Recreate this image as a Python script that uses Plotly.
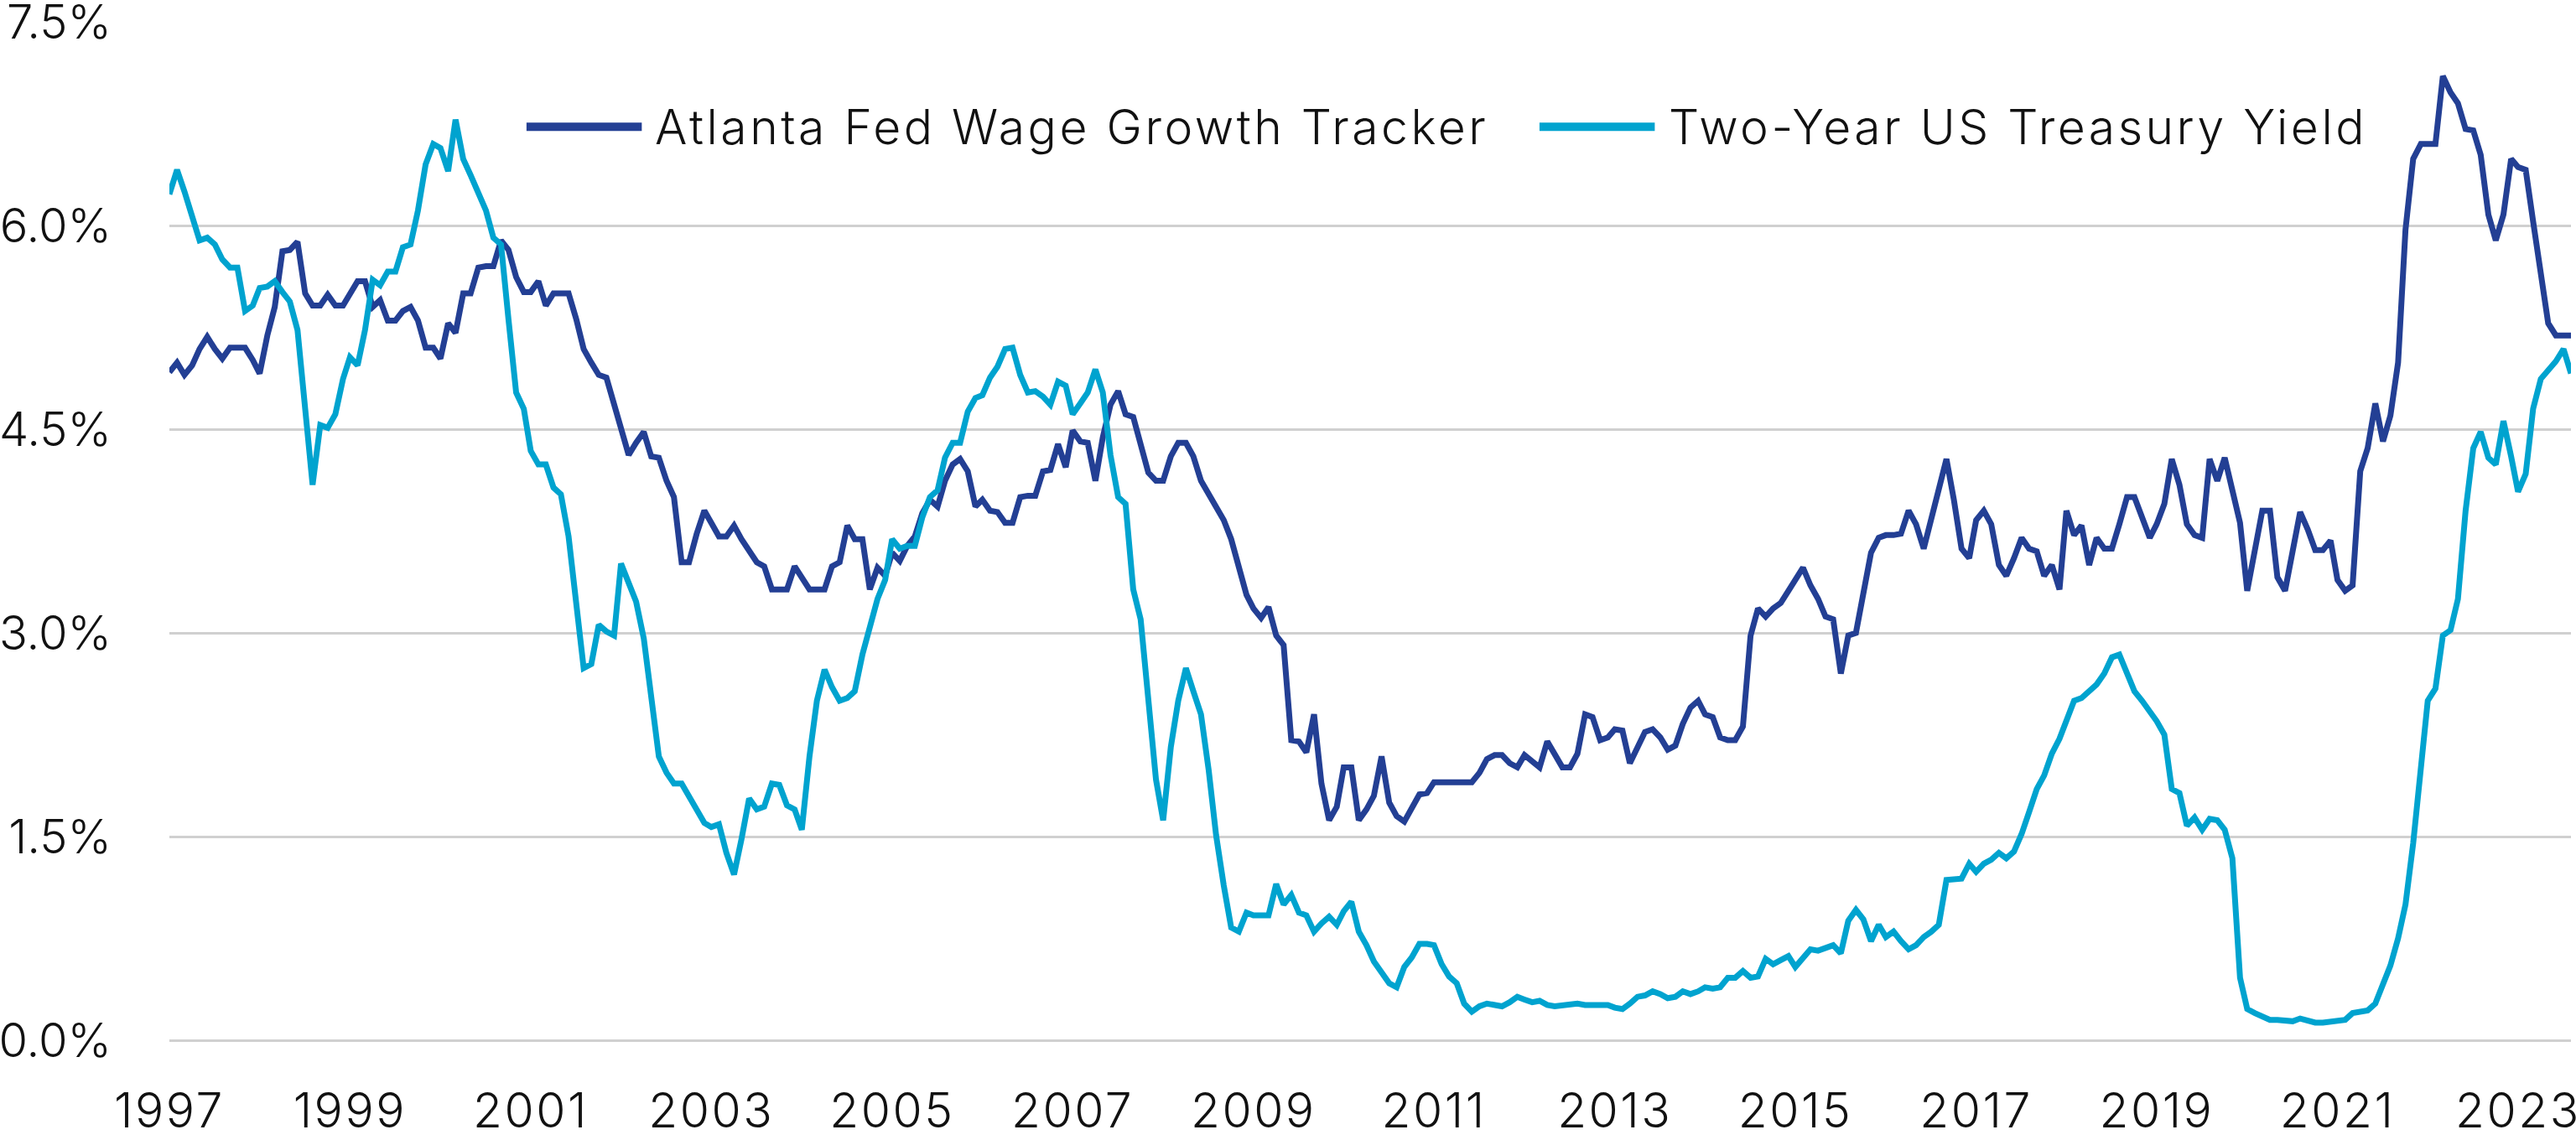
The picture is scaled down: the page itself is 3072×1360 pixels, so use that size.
import pandas as pd
import plotly.graph_objects as go

# Monthly observations, starting March 1997
start_month = "1997-03-01"

wage_growth = [
    4.92, 4.99, 4.90, 4.97, 5.09, 5.18, 5.09, 5.02, 5.10, 5.10,
    5.10, 5.01, 4.91, 5.19, 5.40, 5.81, 5.82, 5.88, 5.50, 5.41,
    5.41, 5.49, 5.41, 5.41, 5.50, 5.59, 5.59, 5.40, 5.45, 5.30,
    5.30, 5.37, 5.40, 5.30, 5.10, 5.10, 5.02, 5.28, 5.21, 5.50,
    5.50, 5.69, 5.70, 5.70, 5.89, 5.82, 5.62, 5.51, 5.51, 5.59,
    5.41, 5.50, 5.50, 5.50, 5.31, 5.09, 4.99, 4.90, 4.88, 4.68,
    4.48, 4.31, 4.40, 4.48, 4.30, 4.29, 4.12, 4.00, 3.52, 3.52,
    3.73, 3.90, 3.81, 3.71, 3.71, 3.79, 3.69, 3.60, 3.52, 3.49,
    3.32, 3.32, 3.32, 3.49, 3.40, 3.32, 3.32, 3.32, 3.49, 3.52,
    3.79, 3.69, 3.69, 3.32, 3.48, 3.42, 3.59, 3.53, 3.64, 3.71,
    3.88, 3.98, 3.93, 4.12, 4.24, 4.28, 4.19, 3.93, 3.98, 3.90,
    3.89, 3.81, 3.81, 4.00, 4.01, 4.01, 4.19, 4.20, 4.39, 4.22,
    4.49, 4.41, 4.40, 4.12, 4.44, 4.68, 4.78, 4.61, 4.59, 4.39,
    4.18, 4.12, 4.12, 4.30, 4.40, 4.40, 4.30, 4.12, 4.02, 3.93,
    3.83, 3.69, 3.47, 3.28, 3.18, 3.11, 3.19, 2.98, 2.91, 2.21,
    2.20, 2.12, 2.40, 1.89, 1.62, 1.72, 2.01, 2.01, 1.62, 1.70,
    1.80, 2.09, 1.75, 1.65, 1.61, 1.72, 1.81, 1.82, 1.90, 1.90,
    1.90, 1.90, 1.90, 1.90, 1.97, 2.07, 2.10, 2.10, 2.04, 2.01,
    2.10, 2.06, 2.01, 2.20, 2.11, 2.01, 2.01, 2.11, 2.40, 2.38,
    2.21, 2.23, 2.29, 2.28, 2.04, 2.16, 2.27, 2.29, 2.23, 2.14,
    2.17, 2.33, 2.45, 2.50, 2.40, 2.38, 2.23, 2.21, 2.21, 2.31,
    2.98, 3.18, 3.12, 3.18, 3.22, 3.31, 3.40, 3.48, 3.35, 3.25,
    3.12, 3.10, 2.70, 2.98, 3.00, 3.30, 3.59, 3.70, 3.72, 3.72,
    3.73, 3.90, 3.80, 3.62, 3.85, 4.05, 4.28, 3.98, 3.62, 3.55,
    3.83, 3.90, 3.80, 3.50, 3.42, 3.55, 3.70, 3.62, 3.60, 3.42,
    3.50, 3.32, 3.90, 3.72, 3.79, 3.50, 3.70, 3.62, 3.62, 3.80,
    4.00, 4.00, 3.85, 3.70, 3.80, 3.95, 4.28, 4.09, 3.80, 3.72,
    3.70, 4.28, 4.12, 4.29, 4.05, 3.81, 3.31, 3.64, 3.90, 3.90,
    3.41, 3.31, 3.60, 3.89, 3.76, 3.61, 3.61, 3.68, 3.39, 3.31,
    3.35, 4.19, 4.36, 4.69, 4.41, 4.60, 4.99, 5.97, 6.49, 6.60,
    6.60, 6.60, 7.10, 6.98, 6.90, 6.71, 6.70, 6.52, 6.08, 5.89,
    6.08, 6.49, 6.43, 6.41, 6.03, 5.65, 5.28, 5.19, 5.19, 5.19,
]

treasury_2y = [
    6.23, 6.41, 6.25, 6.08, 5.89, 5.91, 5.86, 5.75, 5.69, 5.69,
    5.37, 5.41, 5.54, 5.55, 5.59, 5.51, 5.44, 5.23, 4.63, 4.09,
    4.53, 4.51, 4.61, 4.87, 5.03, 4.97, 5.23, 5.60, 5.56, 5.66,
    5.66, 5.84, 5.86, 6.11, 6.45, 6.60, 6.57, 6.40, 6.78, 6.49,
    6.37, 6.25, 6.11, 5.91, 5.86, 5.31, 4.77, 4.65, 4.34, 4.24,
    4.24, 4.07, 4.02, 3.71, 3.23, 2.74, 2.77, 3.06, 3.01, 2.98,
    3.51, 3.37, 3.23, 2.96, 2.50, 2.09, 1.97, 1.89, 1.89, 1.80,
    1.70, 1.60, 1.57, 1.59, 1.38, 1.22, 1.48, 1.78, 1.70, 1.72,
    1.89, 1.88, 1.73, 1.70, 1.55, 2.09, 2.50, 2.73, 2.60, 2.50,
    2.52, 2.57, 2.84, 3.03, 3.25, 3.39, 3.69, 3.62, 3.64, 3.64,
    3.85, 4.00, 4.05, 4.29, 4.40, 4.40, 4.63, 4.73, 4.75, 4.88,
    4.96, 5.09, 5.10, 4.90, 4.77, 4.78, 4.74, 4.68, 4.85, 4.82,
    4.61, 4.69, 4.77, 4.94, 4.77, 4.31, 4.00, 3.95, 3.32, 3.10,
    2.45, 1.92, 1.62, 2.16, 2.50, 2.74, 2.57, 2.40, 1.99, 1.51,
    1.14, 0.83, 0.80, 0.94, 0.92, 0.92, 0.92, 1.15, 1.00, 1.07,
    0.94, 0.92, 0.80, 0.86, 0.91, 0.85, 0.95, 1.02, 0.80, 0.70,
    0.58, 0.50, 0.42, 0.39, 0.54, 0.61, 0.71, 0.71, 0.70, 0.56,
    0.47, 0.42, 0.27, 0.21, 0.25, 0.27, 0.26, 0.25, 0.28, 0.32,
    0.30, 0.28, 0.29, 0.26, 0.25, 0.26, 0.27, 0.27, 0.26, 0.26,
    0.26, 0.26, 0.24, 0.23, 0.27, 0.32, 0.33, 0.36, 0.34, 0.31,
    0.32, 0.36, 0.34, 0.36, 0.39, 0.38, 0.39, 0.46, 0.46, 0.51,
    0.46, 0.47, 0.60, 0.56, 0.59, 0.62, 0.54, 0.60, 0.67, 0.66,
    0.68, 0.70, 0.64, 0.88, 0.96, 0.89, 0.73, 0.85, 0.76, 0.80,
    0.73, 0.67, 0.70, 0.76, 0.80, 0.85, 1.18, 1.19, 1.19, 1.30,
    1.24, 1.30, 1.33, 1.38, 1.34, 1.39, 1.52, 1.68, 1.85, 1.95,
    2.11, 2.22, 2.35, 2.50, 2.52, 2.57, 2.62, 2.70, 2.82, 2.84,
    2.70, 2.57, 2.50, 2.43, 2.35, 2.25, 1.85, 1.82, 1.58, 1.64,
    1.55, 1.63, 1.62, 1.55, 1.34, 0.46, 0.23, 0.20, 0.18, 0.15,
    0.15, 0.14, 0.14, 0.16, 0.14, 0.13, 0.13, 0.14, 0.15, 0.15,
    0.20, 0.21, 0.22, 0.27, 0.40, 0.55, 0.75, 1.00, 1.45, 1.97,
    2.50, 2.59, 2.98, 3.02, 3.25, 3.90, 4.36, 4.48, 4.29, 4.24,
    4.56, 4.30, 4.04, 4.17, 4.65, 4.87, 4.94, 5.00, 5.09, 4.91,
]

year_labels = ["1997", "1999", "2001", "2003", "2005", "2007", "2009",
               "2011", "2013", "2015", "2017", "2019", "2021", "2023"]
y_ticks = [0.0, 1.5, 3.0, 4.5, 6.0, 7.5]

series_names = ["Atlanta Fed Wage Growth Tracker", "Two-Year US Treasury Yield"]
series_colors = ["#233F94", "#00A3CF"]

dates = pd.date_range(start_month, periods=len(wage_growth), freq="MS")
tick_dates = [dates[24 * i] for i in range(len(year_labels))]

FAMILY = "Inter, Roboto, 'Open Sans', sans-serif"
FONT = dict(family=FAMILY, size=57, color="#111111", weight=300)
YFONT = dict(family=FAMILY, size=56, color="#111111", weight=300)


def spaced(text, px):
    return f'<span style="letter-spacing:{px}px">{text}</span>'


fig = go.Figure()
for name, vals, col in zip(series_names, [wage_growth, treasury_2y], series_colors):
    fig.add_trace(go.Scatter(
        x=dates, y=vals, mode="lines", name=name,
        line=dict(color=col, width=7, shape="linear"),
        showlegend=False, hoverinfo="skip",
    ))

# Custom legend (long line samples) drawn in paper coordinates
legend_items = [
    (0.1487, 0.1967, 0.2015),
    (0.5705, 0.6185, 0.6235),
]
for (x0, x1, xt), name, col in zip(legend_items, series_names, series_colors):
    fig.add_shape(type="line", xref="paper", yref="paper", x0=x0, x1=x1,
                  y0=0.897, y1=0.897, line=dict(color=col, width=10))
    fig.add_annotation(xref="paper", yref="paper", x=xt, y=0.897,
                       text=spaced(name, 3.5),
                       showarrow=False, xanchor="left", yanchor="middle",
                       font=FONT)

fig.update_layout(
    width=3072, height=1360,
    margin=dict(l=202, r=6, t=26, b=119, autoexpand=False),
    paper_bgcolor="white", plot_bgcolor="white",
    font=FONT,
)
fig.update_xaxes(
    range=[dates[0], dates[-1]],
    tickvals=tick_dates, ticktext=[spaced(t, 2.5) for t in year_labels],
    showgrid=False, zeroline=False, showline=False, ticks="",
    tickfont=FONT, ticklabelstandoff=46, ticklabeloverflow="allow",
    automargin=False,
)
fig.update_yaxes(
    range=[0, 7.5], tickvals=y_ticks,
    ticktext=[f"{v:.1f}%" for v in y_ticks],
    showgrid=True, gridcolor="#D0D0D0", gridwidth=3,
    zeroline=True, zerolinecolor="#D0D0D0", zerolinewidth=3,
    showline=False, ticks="", tickfont=YFONT, ticklabelstandoff=68,
    ticklabeloverflow="allow", automargin=False,
)

fig.write_html("out.html")
